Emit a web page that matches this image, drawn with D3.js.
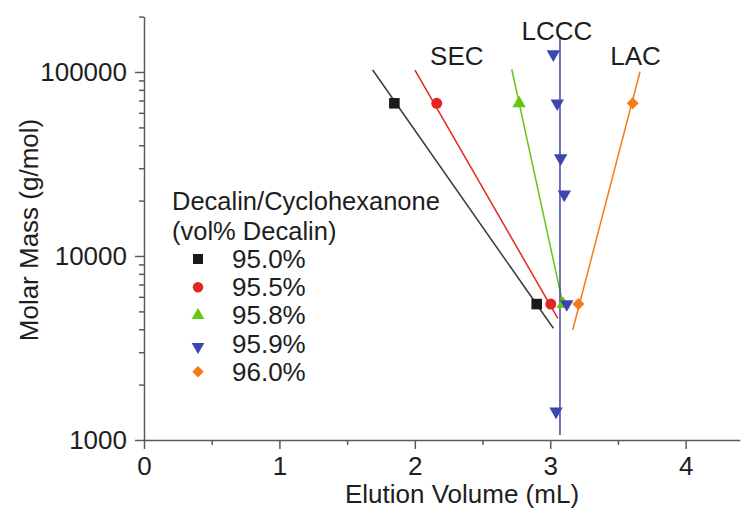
<!DOCTYPE html>
<html><head><meta charset="utf-8">
<script src="https://cdn.jsdelivr.net/npm/d3@7"></script>
<style>
body{margin:0;background:#fff}
text{font-family:"Liberation Sans",Arial,sans-serif;fill:#1e1e1e}
</style>
</head><body>
<svg id="c" width="744" height="517"></svg>
<script>
// ---- data ----
const seriesNames = ["95.0%", "95.5%", "95.8%", "95.9%", "96.0%"];
// measured points (elution volume mL, molar mass g/mol)
const vol950 = [1.849, 2.900];
const mass950 = [67600, 5480];
const vol955 = [2.162, 3.004];
const mass955 = [67600, 5480];
const vol958 = [2.770, 3.095];
const mass958 = [67600, 5480];
const vol959 = [3.023, 3.052, 3.077, 3.104, 3.122, 3.043];
const mass959 = [125000, 67600, 34000, 21600, 5480, 1430];
const vol960 = [3.609, 3.208];
const mass960 = [67600, 5480];
// fitted lines (end points)
const fitVol950 = [1.689, 3.023];
const fitMass950 = [102500, 4050];
const fitVol955 = [2.001, 3.056];
const fitMass955 = [102500, 4580];
const fitVol958 = [2.716, 3.087];
const fitMass958 = [103500, 5770];
const fitVol959 = [3.072, 3.072];
const fitMass959 = [153000, 1065];
const fitVol960 = [3.663, 3.166];
const fitMass960 = [100300, 3960];
// mode annotations
const modeLabels = ["SEC", "LCCC", "LAC"];
const modeVol = [2.31, 3.05, 3.63];
const modeMass = [109000, 149000, 109000];
// axis ticks
const xMajor = [0, 1, 2, 3, 4];
const xMinor = [0.5, 1.5, 2.5, 3.5];
const yMajor = [1000, 10000, 100000];
const yMinor = [2000, 3000, 4000, 5000, 6000, 7000, 8000, 9000,
                20000, 30000, 40000, 50000, 60000, 70000, 80000, 90000, 200000];

// ---- styles ----
const colors = ["#1a1a1a", "#e3261f", "#67c60f", "#3d46ad", "#f47b16"];
const lineColors = ["#3a3a3a", "#e3261f", "#67c60f", "#3d46ad", "#f47b16"];
const symbols = [
  {type: d3.symbolSquare, size: 112, rot: 0},
  {type: d3.symbolCircle, size: 95, rot: 0},
  {type: d3.symbolTriangle, size: 78, rot: 0},
  {type: d3.symbolTriangle, size: 78, rot: 180},
  {type: d3.symbolSquare, size: 72, rot: 45}
];

const series = [
  {v: vol950, m: mass950, fv: fitVol950, fm: fitMass950},
  {v: vol955, m: mass955, fv: fitVol955, fm: fitMass955},
  {v: vol958, m: mass958, fv: fitVol958, fm: fitMass958},
  {v: vol959, m: mass959, fv: fitVol959, fm: fitMass959},
  {v: vol960, m: mass960, fv: fitVol960, fm: fitMass960}
];

const svg = d3.select("#c");
const x = d3.scaleLinear().domain([0, 4.4]).range([144, 739.8]);
const y = d3.scaleLog().domain([1000, 200000]).range([440, 440 - Math.log10(200) * 184]);

const axisColor = "#5a5a5a";
function styleAxis(g) {
  g.selectAll("path.domain").attr("stroke", axisColor).attr("stroke-width", 1.5);
  g.selectAll(".tick line").attr("stroke", axisColor).attr("stroke-width", 1.5);
  g.selectAll(".tick text").attr("font-size", 26).attr("fill", "#1e1e1e")
    .attr("font-family", '"Liberation Sans", Arial, sans-serif');
}

// minor ticks
svg.append("g").attr("transform", `translate(${x(0)},0)`)
  .call(d3.axisLeft(y).tickValues(yMinor).tickSize(5).tickFormat(""))
  .call(g => g.select(".domain").remove()).call(styleAxis);
svg.append("g").attr("transform", `translate(0,${y(1000)})`)
  .call(d3.axisBottom(x).tickValues(xMinor).tickSize(5).tickFormat(""))
  .call(g => g.select(".domain").remove()).call(styleAxis);

// major axes
svg.append("g").attr("transform", `translate(${x(0)},0)`)
  .call(d3.axisLeft(y).tickValues(yMajor).tickFormat(d3.format("d")).tickSize(9).tickSizeOuter(0).tickPadding(8))
  .call(styleAxis);
svg.append("g").attr("transform", `translate(0,${y(1000)})`)
  .call(d3.axisBottom(x).tickValues(xMajor).tickFormat(d3.format("d")).tickSize(9).tickSizeOuter(0).tickPadding(8))
  .call(styleAxis);

// axis titles
svg.append("text").attr("x", 462).attr("y", 503).attr("text-anchor", "middle")
  .attr("font-size", 26).text("Elution Volume (mL)");
svg.append("text").attr("transform", "translate(38,230) rotate(-90)").attr("text-anchor", "middle")
  .attr("font-size", 26).text("Molar Mass (g/mol)");

// fit lines
const line = d3.line().x(d => x(d[0])).y(d => y(d[1]));
series.forEach((s, i) => {
  svg.append("path").attr("d", line(d3.zip(s.fv, s.fm)))
    .attr("fill", "none").attr("stroke", lineColors[i]).attr("stroke-width", 1.5);
});

// points
series.forEach((s, i) => {
  const sym = symbols[i];
  svg.append("g").selectAll("path").data(d3.zip(s.v, s.m)).join("path")
    .attr("d", d3.symbol().type(sym.type).size(sym.size)())
    .attr("transform", d => `translate(${x(d[0])},${y(d[1])}) rotate(${sym.rot})`)
    .attr("fill", colors[i]);
});

// mode labels
modeLabels.forEach((t, i) => {
  svg.append("text").attr("x", x(modeVol[i])).attr("y", y(modeMass[i]))
    .attr("text-anchor", "middle").attr("font-size", 26).text(t);
});

// legend
const lg = svg.append("g").attr("transform", "translate(172,0)");
lg.append("text").attr("x", 0).attr("y", 210).attr("font-size", 25.5).text("Decalin/Cyclohexanone");
lg.append("text").attr("x", 0).attr("y", 240).attr("font-size", 25.5).text("(vol% Decalin)");
seriesNames.forEach((n, i) => {
  const cy = 259 + i * 28.2;
  const sym = symbols[i];
  lg.append("path").attr("d", d3.symbol().type(sym.type).size(sym.size * 0.9)())
    .attr("transform", `translate(26,${cy + (i === 3 ? 3 : 0)}) rotate(${sym.rot})`)
    .attr("fill", colors[i]);
  lg.append("text").attr("x", 60).attr("y", cy + 9).attr("font-size", 26).text(n);
});
</script>
</body></html>
